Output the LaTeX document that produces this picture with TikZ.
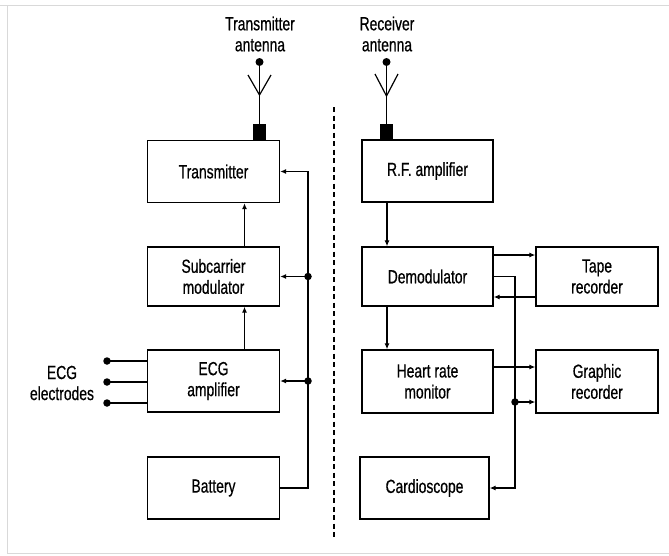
\documentclass[tikz,border=0pt]{standalone}
\usepackage{fontspec}
\setmainfont[FakeStretch=0.73,FakeBold=0.6]{Liberation Sans}
\usetikzlibrary{arrows.meta,calc}
\begin{document}
\begin{tikzpicture}[x=1pt,y=-1pt,
  blk/.style={draw,line width=1.3pt,inner sep=0pt,minimum width=132pt,minimum height=62pt,align=center,font=\fontsize{19}{21}\selectfont},
  lbl/.style={align=center,font=\fontsize{19}{21}\selectfont,inner sep=0pt},
  wire/.style={line width=1.2pt},
  arr/.style={wire,-{Latex[length=6pt,width=5pt]}},
  dot/.style={circle,fill,inner sep=0pt,minimum size=7.5pt},
  sq/.style={fill,inner sep=0pt,minimum width=13pt,minimum height=16pt}]
\useasboundingbox (0,0) rectangle (669,555);
\draw[black!15,line width=1pt] (0,5) -- (669,5) (7,5) -- (7,553) -- (669,553);

% left column
\node[blk] (tx) at (213.5,171.5) {Transmitter};
\node[blk,minimum height=59pt] (sub) at (213.5,276.5) {Subcarrier\\modulator};
\node[blk] (ecg) at (213.5,381) {ECG\\amplifier};
\node[blk] (bat) at (213.5,488) {Battery};

% right column
\node[blk,minimum width=131pt] (rf) at (427.5,171) {R.F. amplifier};
\node[blk,minimum width=131pt,minimum height=59pt] (dem) at (427.5,276.5) {Demodulator};
\node[blk,minimum width=131pt,minimum height=63pt] (hrm) at (427.5,381.5) {Heart rate\\monitor};
\node[blk,minimum width=122pt,minimum height=59pt] (tape) at (597,276.5) {Tape\\recorder};
\node[blk,minimum width=122pt,minimum height=63pt] (graph) at (597,381.5) {Graphic\\recorder};
\node[blk,minimum width=129pt] (card) at (424.5,488) {Cardioscope};

% transmitter antenna
\node[sq,anchor=south] (txsq) at (259.5,140) {};
\node[dot,minimum size=8pt] (txd) at (259.5,62) {};
\coordinate (txj) at (259.5,95);
\coordinate (txl) at (248,75);
\coordinate (txr) at (271,75);
\draw[wire] (txsq.north) -- (txd.center);
\draw[wire] (txl) -- (txj) -- (txr);
\node[lbl] (txlab) at (260,34) {Transmitter\\antenna};

% receiver antenna
\node[sq,anchor=south] (rxsq) at (386.5,140) {};
\node[dot,minimum size=8pt] (rxd) at (386.5,62) {};
\coordinate (rxj) at (386.5,96);
\coordinate (rxl) at (375,74);
\coordinate (rxr) at (398,74);
\draw[wire] (rxsq.north) -- (rxd.center);
\draw[wire] (rxl) -- (rxj) -- (rxr);
\node[lbl] (rxlab) at (387,34) {Receiver\\antenna};

% separator
\coordinate (sepT) at (334,107);
\coordinate (sepB) at (334,537);
\draw[wire,dash pattern=on 5pt off 3.5pt] (sepT) -- (sepB);

% left connections
\draw[arr] ([xshift=31pt]sub.north) -- ([xshift=31pt]tx.south);
\draw[arr] ([xshift=31pt]ecg.north) -- ([xshift=31pt]sub.south);
\coordinate (bx) at (308,0);
\draw[arr] (bat.east) -| (bx |- tx.east) -- (tx.east);
\node[dot] (d1) at (bx |- sub.east) {};
\node[dot] (d2) at (bx |- ecg.east) {};
\draw[arr] (d1.center) -- (sub.east);
\draw[arr] (d2.center) -- (ecg.east);

% electrodes
\foreach \yy/\n in {361/1,382/2,403/3}{
  \node[dot] (e\n) at (107,\yy) {};
  \draw[wire] (e\n.center) -- (ecg.west |- e\n);
}
\node[lbl] (elab) at (62,383) {ECG\\electrodes};

% right connections
\draw[arr] ([xshift=-40.5pt]rf.south) -- ([xshift=-40.5pt]dem.north);
\draw[arr] ([xshift=-40.5pt]dem.south) -- ([xshift=-40.5pt]hrm.north);
\path ([yshift=21.5pt]dem.east) coordinate (t1);
\path ([yshift=-20.5pt]dem.east) coordinate (t2);
\draw[arr] (t1) -- (t1 -| tape.west);
\draw[arr] (t2 -| tape.west) -- (t2);
\coordinate (rx) at (515,0);
\draw[arr] (dem.east) -| (rx |- card.east) -- (card.east);
\path ([yshift=14.5pt]hrm.east) coordinate (g1);
\draw[arr] (g1) -- (g1 -| graph.west);
\path ([yshift=-20.5pt]graph.west) coordinate (g2);
\node[dot] (d3) at (rx |- g2) {};
\draw[arr] (d3.center) -- (g2);
\end{tikzpicture}
\end{document}
